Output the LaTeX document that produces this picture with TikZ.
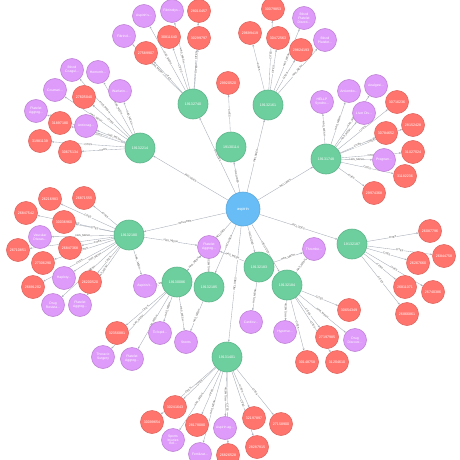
\documentclass[tikz,border=0pt]{standalone}
\usepackage{fontspec}
\setmainfont{Liberation Sans}
\usetikzlibrary{backgrounds,arrows.meta}
\definecolor{cgreen}{HTML}{6DCE9E}
\definecolor{cgreenb}{HTML}{60B58B}
\definecolor{cred}{HTML}{FF756E}
\definecolor{credb}{HTML}{E06760}
\definecolor{cpurp}{HTML}{DE9BF9}
\definecolor{cpurpb}{HTML}{BF85D6}
\definecolor{cblue}{HTML}{68BDF6}
\definecolor{cblueb}{HTML}{5CA8DB}
\definecolor{cedge}{HTML}{A5ABB6}
\begin{document}
\begin{tikzpicture}[x=1pt,y=-1pt,
 base/.style={circle,draw,line width=0.6pt,text=white,inner sep=0pt,align=center,font=\fontsize{3.6}{4}\selectfont},
 drugnode/.style={base,fill=cblue,draw=cblueb,minimum size=34pt,font=\fontsize{4}{5}\selectfont},
 artnode/.style={base,fill=cgreen,draw=cgreenb,minimum size=30pt},
 papnode/.style={base,fill=cred,draw=credb,minimum size=23pt},
 meshnode/.style={base,fill=cpurp,draw=cpurpb,minimum size=23pt,font=\fontsize{3.4}{3.8}\selectfont},
 rel/.style={draw=cedge,line width=0.35pt,-{Stealth[length=2.2pt,width=1.8pt]}},
 elab/.style={sloped,fill=white,inner sep=0.3pt,font=\fontsize{2.6}{3}\selectfont,text=black!70}
]
\useasboundingbox (0,0) rectangle (460,460);
\node[drugnode] (asp) at (243,209) {aspirin};
\foreach \n/\x/\y/\t in {g1/193/104/19132740, g2/231/147/19130114, g3/268/105/19132161,
  g4/140/148/19132214, g5/326/159/19131748, g6/129/235/19132180, g7/352/244/19132187,
  g8/259/267/19132183, g9/287/285/19132184, g10/177/282/19130086, g11/209/287/19132185,
  g12/227/357/19131401}
  \node[artnode] (\n) at (\x,\y) {\t};
\foreach \n/\x/\y/\t in {r1/146/53/27589907, r2/169/37/30811640, r3/199/38/30299797,
  r4/199/11/28016457, r5/228/83/29920520, r6/273/9/30079853, r7/250/33/29699419,
  r8/278/38/30472563, r9/301/50/29824193, r10/397/102/30716236, r11/413/125/28152428,
  r12/386/133/30784652, r13/413/152/31027024, r14/405/176/31182236, r15/374/193/29974368,
  r16/84/97/27605040, r17/60/123/31897180, r18/40/141/31981139, r19/70/152/30675134,
  r20/50/199/26216983, r21/84/198/26871555, r22/26/213/26847542, r23/64/222/30036960,
  r24/18/250/26710851, r25/70/248/26847368, r26/43/263/27306290, r27/90/282/26200520,
  r28/33/287/26891202, r29/117/333/32356881, r30/152/422/30099654, r31/175/407/30241643,
  r32/197/425/28178080, r33/254/418/32197897, r34/281/424/27158900, r35/228/455/26826528,
  r36/257/447/28287815, r37/307/362/30148758, r38/349/310/30654349, r39/327/337/27197985,
  r40/337/362/31204610, r41/430/231/26087796, r42/444/256/26844758, r43/418/263/26267660,
  r44/405/287/26811071, r45/433/292/26740386, r46/407/314/26866861}
  \node[papnode] (\n) at (\x,\y) {\t};
\foreach \n/\x/\y/\t in {p1/144/16/{Aspirin's...}, p2/124/36/{Fibrinol...}, p3/172/11/{Fibrinolys...},
  p4/304/18/{Blood\\Platelet\\Disord...}, p5/325/40/{Blood\\Platelet...}, p6/322/102/{HELLP\\Syndro...},
  p7/349/91/{Antiembo...}, p8/376/86/{Analgesi...}, p9/364/113/{Liver Dis...}, p10/384/160/{Pregnan...},
  p11/72/70/{Blood\\Coagul...}, p12/98/72/{Hemorrh...}, p13/55/90/{Coumari...}, p14/120/91/{Warfarin...},
  p15/36/111/{Platelet\\Aggreg...}, p16/86/126/{Anticoag...}, p17/40/237/{Vascular\\Diseas...},
  p18/64/278/{Haploty...}, p19/53/305/{Drug\\Resista...}, p20/80/305/{Platelet\\Aggreg...},
  p21/145/286/{Aspirin/t...}, p22/209/247/{Platelet\\Aggreg...}, p23/314/249/{Thrombo...},
  p24/103/357/{Thoracic\\Surgery}, p25/132/359/{Platelet\\Aggreg...}, p26/160/333/{Ticlopid...},
  p27/186/342/{Stents}, p28/251/322/{Cardiov...}, p29/285/332/{Hyperse...}, p30/355/340/{Drug\\Discove...},
  p31/173/440/{Sports\\Injuries\\Incl...}, p32/225/428/{Aspirin ag...}, p33/200/454/{Fertilizat...}}
  \node[meshnode] (\n) at (\x,\y) {\t};
\begin{pgfonlayer}{background}
\fill[white] (0,0) rectangle (460,460);
\foreach \b in {g1,g2,g3,g4,g5,g6,g7,g8,g9,g12}
  \draw[rel] (asp) -- node[elab,midway]{INCLUDES} (\b);
\draw[rel] (asp) -- node[elab,pos=0.25]{INCLUDES} (g10);
\draw[rel] (asp) -- node[elab,pos=0.35]{INCLUDES} (g11);
\foreach \a/\b in {g1/r1,g1/r2,g1/r3,g1/r4,g2/r5,g3/r6,g3/r7,g3/r8,g3/r9,
  g5/r10,g5/r11,g5/r12,g5/r13,g5/r14,g5/r15,g4/r16,g4/r17,g4/r18,g4/r19,
  g6/r20,g6/r21,g6/r22,g6/r23,g6/r24,g6/r25,g6/r26,g6/r27,g6/r28,g10/r29,
  g12/r30,g12/r31,g12/r32,g12/r33,g12/r34,g12/r35,g12/r36,
  g9/r37,g9/r38,g9/r39,g9/r40,g7/r41,g7/r42,g7/r43,g7/r44,g7/r45,g7/r46}
  \draw[rel] (\a) -- node[elab,midway]{CITES} (\b);
\foreach \a/\b in {g1/p1,g1/p2,g1/p3,g3/p4,g3/p5,g5/p6,g5/p7,g5/p8,g5/p9,g5/p10,
  g4/p11,g4/p12,g4/p13,g4/p14,g6/p17,g6/p18,g6/p19,g6/p20,g6/p21,g6/p22,
  g10/p21,g10/p22,g10/p24,g10/p25,g10/p26,g10/p27,g11/p22,g11/p27,
  g8/p22,g8/p23,g8/p28,g9/p23,g9/p29,g9/p30,g12/p31,g12/p32,g12/p33}
  \draw[rel] (\a) -- node[elab,midway]{HAS\_MESH} (\b);
\draw[rel] (g4) -- node[elab,pos=0.88]{HAS\_MESH} (p15);
\draw[rel] (g4) -- node[elab,pos=0.4]{HAS\_MESH} (p16);
\end{pgfonlayer}
\end{tikzpicture}
\end{document}
